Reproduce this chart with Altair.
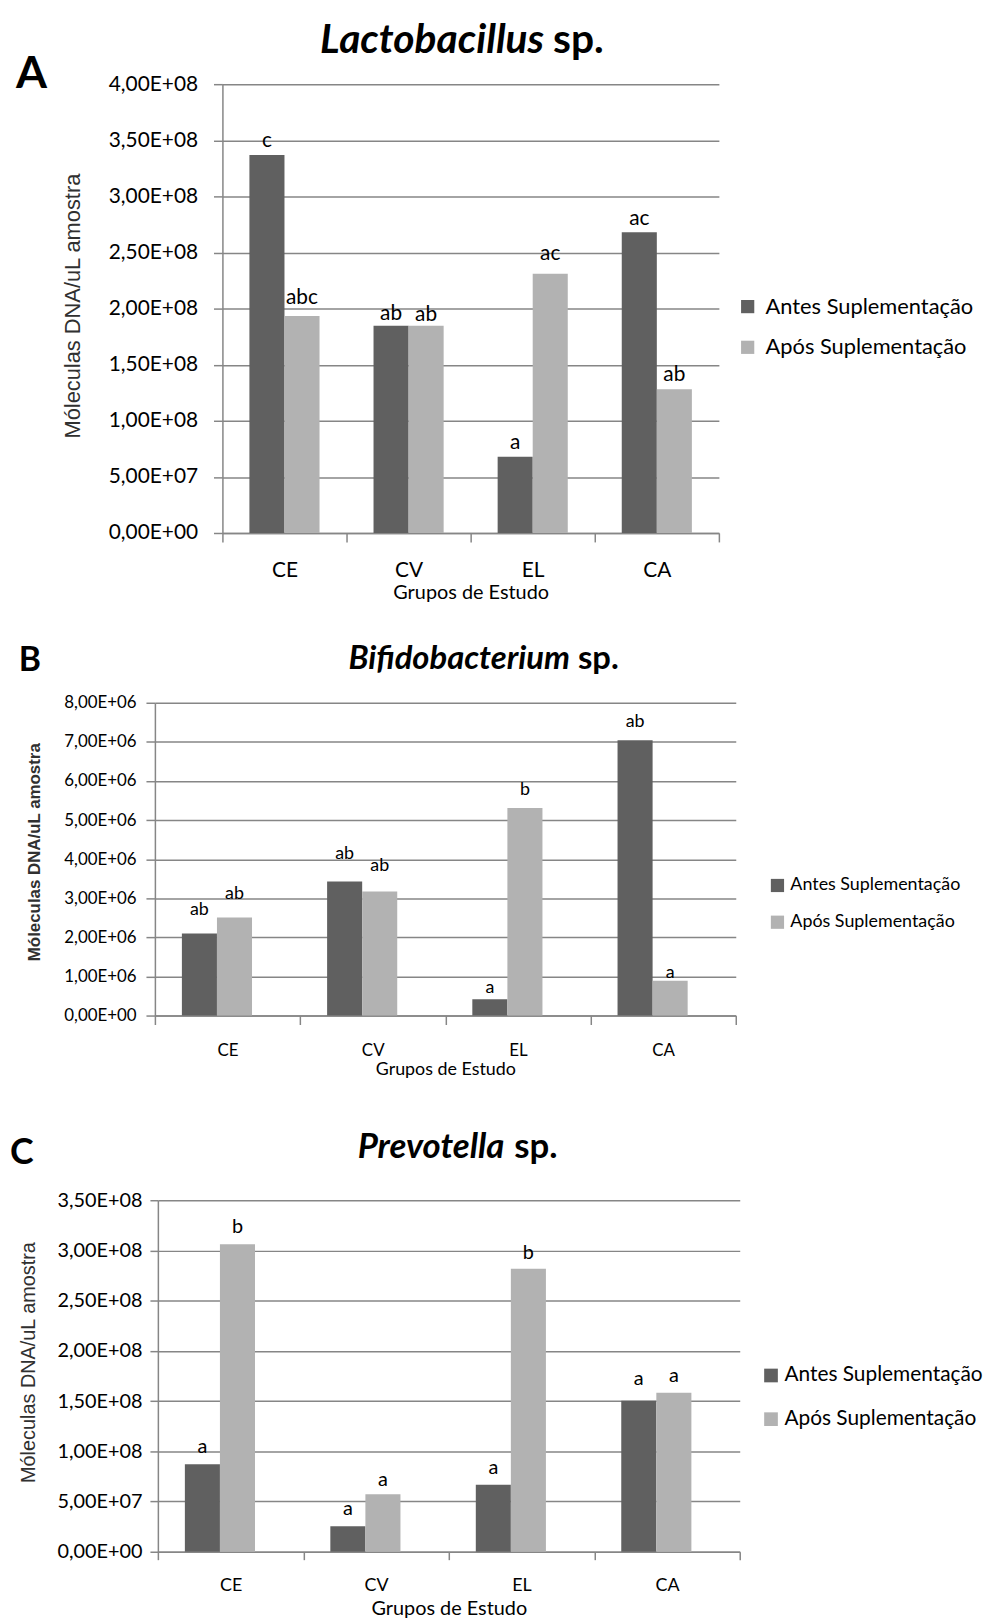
import altair as alt
import pandas as pd

groups = ["CE", "CV", "EL", "CA"]
series = ["Antes Suplementação", "Após Suplementação"]
series_colors = ["#606060", "#b2b2b2"]
x_title = "Grupos de Estudo"
y_title = "Móleculas DNA/uL amostra"

# Panel A - Lactobacillus
lacto_antes = [3.369e8, 1.847e8, 0.679e8, 2.680e8]
lacto_apos = [1.935e8, 1.847e8, 2.311e8, 1.282e8]
lacto_sig_antes = ["c", "ab", "a", "ac"]
lacto_sig_apos = ["abc", "ab", "ac", "ab"]
lacto_sig_y_antes = [3.49e8, 1.954e8, 0.80e8, 2.80e8]
lacto_sig_y_apos = [2.093e8, 1.942e8, 2.485e8, 1.405e8]
lacto_ticks = [0, 5e7, 1e8, 1.5e8, 2e8, 2.5e8, 3e8, 3.5e8, 4e8]

# Panel B - Bifidobacterium
bifido_antes = [2.10e6, 3.43e6, 0.42e6, 7.04e6]
bifido_apos = [2.51e6, 3.175e6, 5.31e6, 0.89e6]
bifido_sig_antes = ["ab", "ab", "a", "ab"]
bifido_sig_apos = ["ab", "ab", "b", "a"]
bifido_sig_y_antes = [2.69e6, 4.13e6, 0.70e6, 7.52e6]
bifido_sig_y_apos = [3.115e6, 3.835e6, 5.757e6, 1.084e6]
bifido_ticks = [0, 1e6, 2e6, 3e6, 4e6, 5e6, 6e6, 7e6, 8e6]

# Panel C - Prevotella
prevo_antes = [0.870e8, 0.254e8, 0.666e8, 1.503e8]
prevo_apos = [3.062e8, 0.573e8, 2.818e8, 1.582e8]
prevo_sig_antes = ["a", "a", "a", "a"]
prevo_sig_apos = ["b", "a", "b", "a"]
prevo_sig_y_antes = [1.045e8, 0.425e8, 0.837e8, 1.720e8]
prevo_sig_y_apos = [3.236e8, 0.709e8, 2.979e8, 1.753e8]
prevo_ticks = [0, 5e7, 1e8, 1.5e8, 2e8, 2.5e8, 3e8, 3.5e8]

EXP = "floor(log(datum.value) / LN10 + 1e-9)"
LABEL_EXPR = (
    "datum.value == 0 ? '0,00E+00' : "
    f"replace(format(datum.value / pow(10, {EXP}), '.2f'), '.', ',') + 'E+' + "
    f"({EXP} < 10 ? '0' : '') + {EXP}"
)

GRID = "#868686"


def make_panel(letter, genus, antes, apos, sig_antes, sig_apos, sig_y_antes, sig_y_apos, ticks, L):
    df = pd.DataFrame({
        "grupo": groups * 2,
        "serie": [series[0]] * 4 + [series[1]] * 4,
        "valor": antes + apos,
        "sig": sig_antes + sig_apos,
        "sig_y": sig_y_antes + sig_y_apos,
    })
    one = pd.DataFrame({"k": [0]})
    x_scale = alt.Scale(domain=groups, paddingInner=0, paddingOuter=0)
    xo_scale = alt.Scale(domain=series, paddingInner=0, paddingOuter=L["po"])
    y_scale = alt.Scale(domain=[0, ticks[-1]], nice=False, zero=True)
    x_axis = alt.Axis(
        title=x_title, labelAngle=0, tickBand="extent", ticks=True, tickSize=L["xtick"],
        tickColor=GRID, tickWidth=1.5, domainColor=GRID, domainWidth=1.5, grid=False,
        labelFont="Lato", labelFontSize=L["catfs"], labelColor="black",
        labelBaseline="middle", labelPadding=L["catpad"],
        titleFont="Lato", titleFontSize=L["xtfs"], titleFontWeight="normal", titleColor="black",
        titleBaseline="middle", titleY=L["xtitleY"],
    )
    y_axis = alt.Axis(
        title=y_title, values=ticks, labelExpr=LABEL_EXPR, grid=True, gridColor=GRID, gridWidth=1.5,
        domainColor=GRID, domainWidth=1.5, tickColor=GRID, tickWidth=1.5, tickSize=L["ytick"],
        labelFont="Lato", labelFontSize=L["yfs"], labelColor="black", labelPadding=L["ypad"],
        titleFont="Liberation Sans", titleFontSize=L["ytfs"], titleFontWeight=L["ytw"],
        titleColor="#303030", titleAngle=270, titleBaseline="middle", titleAlign="center",
        titleX=L["ytitleX"], titleY=L["ytitleY"],
    )
    xenc = alt.X("grupo:N", scale=x_scale, axis=x_axis)
    xoenc = alt.XOffset("serie:N", scale=xo_scale)
    bars = alt.Chart(df).mark_bar().encode(
        x=xenc,
        xOffset=xoenc,
        y=alt.Y("valor:Q", scale=y_scale, axis=y_axis),
        color=alt.Color(
            "serie:N",
            scale=alt.Scale(domain=series, range=series_colors),
            legend=alt.Legend(
                title=None, orient="none", legendX=L["legX"], legendY=L["legY"],
                symbolType="square", symbolSize=L["symsize"], symbolStrokeWidth=0,
                labelFont="Lato", labelFontSize=L["legfs"], labelColor="black",
                rowPadding=L["legrow"], labelOffset=L["legoff"], padding=0, labelLimit=400,
            ),
        ),
    )
    sig = alt.Chart(df).mark_text(
        font="Lato", fontSize=L["sigfs"], baseline="middle", align="center", color="black"
    ).encode(
        x=xenc,
        xOffset=xoenc,
        y=alt.Y("sig_y:Q", scale=y_scale, axis=y_axis),
        text="sig:N",
    )
    t_genus = alt.Chart(one).mark_text(
        text=genus, font="Lato", fontSize=L["tfs"], fontWeight="bold", fontStyle="italic",
        align="right", baseline="alphabetic", color="black",
    ).encode(x=alt.value(L["genus_end"] - L["left"]), y=alt.value(L["tbase"] - L["top"]))
    t_sp = alt.Chart(one).mark_text(
        text="sp.", font="Lato", fontSize=L["tfs"], fontWeight="bold",
        align="left", baseline="alphabetic", color="black",
    ).encode(x=alt.value(L["sp_start"] - L["left"]), y=alt.value(L["tbase"] - L["top"]))
    t_letter = alt.Chart(one).mark_text(
        text=letter, font="Lato", fontSize=L["lfs"], fontWeight="bold",
        align="left", baseline="alphabetic", color="black",
    ).encode(x=alt.value(L["lx"] - L["left"]), y=alt.value(L["lbase"] - L["top"]))
    bound = alt.Chart(one).mark_rule(color="white", strokeWidth=1).encode(
        x=alt.value(-(L["left"] - 1)),
        y=alt.value(-(L["top"] - L["r0"])),
        y2=alt.value(L["r1"] - L["top"]),
    )
    panel = alt.layer(bars, sig, t_genus, t_sp, t_letter, bound).properties(
        width=L["W"], height=L["H"]
    )
    spacer = alt.Chart(one).mark_rule(color="white").encode(
        x=alt.value(0), y=alt.value(0), y2=alt.value(1)
    ).properties(width=1, height=1)
    return alt.hconcat(spacer, panel, spacing=0).resolve_scale(color="independent")


LA = dict(left=222, top=78, W=500, H=452, r0=0, r1=612, po=0.77,
          xtick=9, catfs=21, catpad=29, xtfs=20, xtitleY=60,
          ytick=9, yfs=21, ypad=16, ytfs=22, ytw="normal", ytitleX=-151, ytitleY=223,
          legX=518, legY=213, symsize=177, legfs=22, legrow=19, legoff=7,
          sigfs=21, tfs=41, genus_end=546, sp_start=555, tbase=47, lfs=45, lx=14, lbase=82)
LB = dict(left=154, top=699, W=585, H=315, r0=612, r1=1095, po=0.79,
          xtick=9, catfs=17, catpad=26, xtfs=18, xtitleY=54,
          ytick=9, yfs=17, ypad=10, ytfs=17, ytw="bold", ytitleX=-121, ytitleY=150,
          legX=618, legY=175, symsize=177, legfs=18, legrow=19, legoff=4,
          sigfs=18, tfs=33, genus_end=572, sp_start=580, tbase=665, lfs=34, lx=17, lbase=667)
LC = dict(left=157, top=1198, W=586, H=354, r0=1095, r1=1619, po=0.78,
          xtick=8, catfs=18, catpad=26, xtfs=20, xtitleY=57,
          ytick=8, yfs=20, ypad=8, ytfs=20, ytw="normal", ytitleX=-130, ytitleY=163,
          legX=607, legY=166, symsize=190, legfs=21, legrow=22, legoff=3,
          sigfs=20, tfs=35, genus_end=506, sp_start=516, tbase=1155, lfs=36, lx=8, lbase=1161)

row_a = make_panel("A", "Lactobacillus", lacto_antes, lacto_apos, lacto_sig_antes, lacto_sig_apos,
                   lacto_sig_y_antes, lacto_sig_y_apos, lacto_ticks, LA)
row_b = make_panel("B", "Bifidobacterium", bifido_antes, bifido_apos, bifido_sig_antes, bifido_sig_apos,
                   bifido_sig_y_antes, bifido_sig_y_apos, bifido_ticks, LB)
row_c = make_panel("C", "Prevotella", prevo_antes, prevo_apos, prevo_sig_antes, prevo_sig_apos,
                   prevo_sig_y_antes, prevo_sig_y_apos, prevo_ticks, LC)

chart = alt.vconcat(row_a, row_b, row_c, spacing=0, padding=0, background="white").resolve_scale(
    color="independent"
).resolve_legend(color="independent").configure_view(stroke=None)

chart.save("out.html", embed_options={"renderer": "svg", "actions": False})
